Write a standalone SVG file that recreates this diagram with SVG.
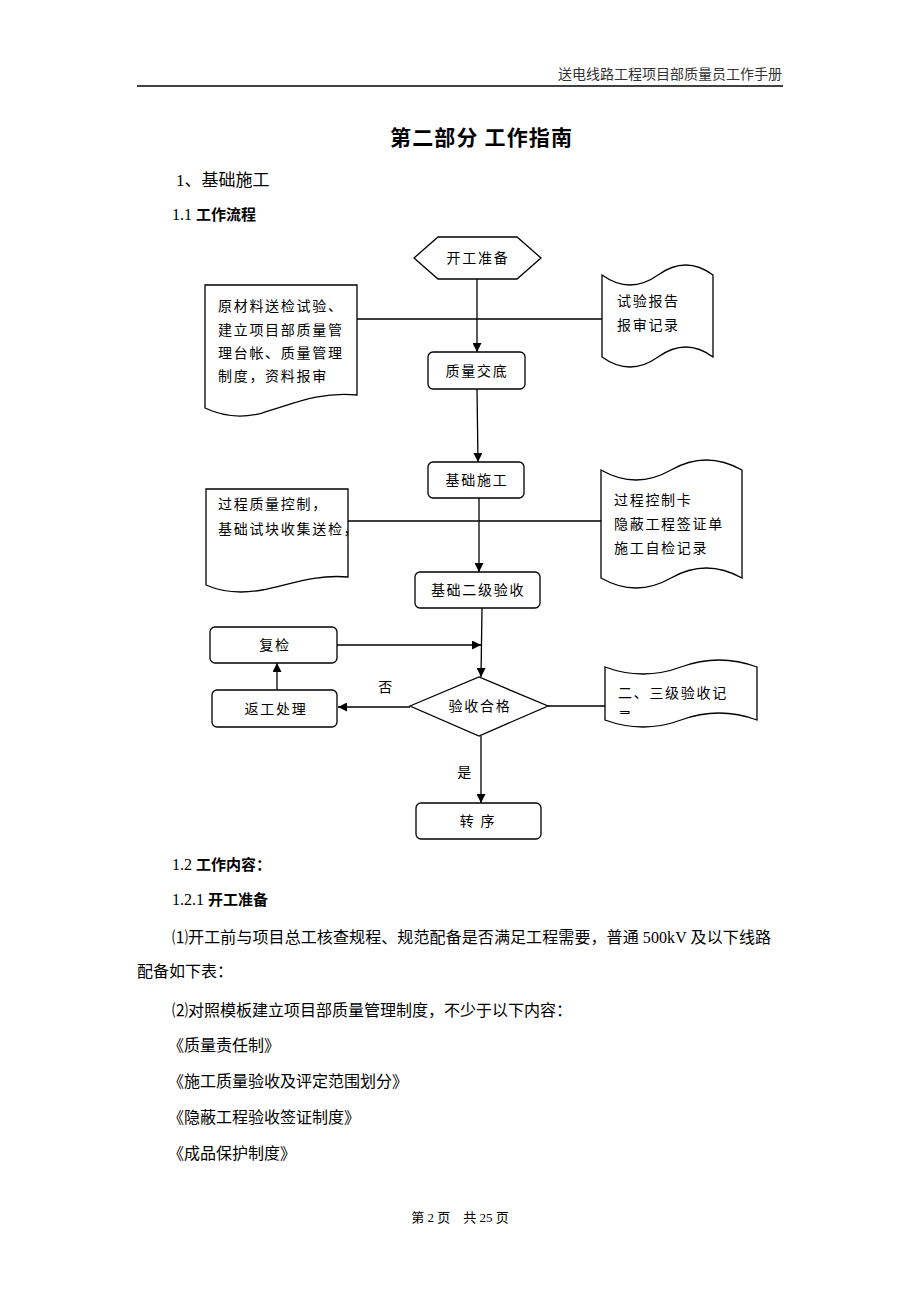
<svg xmlns="http://www.w3.org/2000/svg" width="920" height="1302" viewBox="0 0 920 1302">
<style>
.fc{font-family:"Liberation Serif","Noto Sans CJK SC",serif;font-size:14px;letter-spacing:1.7px;fill:#000}
.fcm{text-anchor:middle}
.body{font-family:"Liberation Serif","Noto Sans CJK SC",serif;font-size:16px;fill:#000}
.hd{font-family:"Noto Sans CJK SC",sans-serif;font-weight:bold;fill:#000}
.num{font-family:"Liberation Serif",serif;font-weight:normal}
.shape{fill:#fff;stroke:#000;stroke-width:1.3}
.conn{stroke:#000;stroke-width:1.3;fill:none}
</style>
<defs>
<marker id="arr" markerWidth="9" markerHeight="9" refX="9" refY="4.5" orient="auto" markerUnits="userSpaceOnUse">
<path d="M0,0 L9,4.5 L0,9 Z" fill="#000"/>
</marker>
<clipPath id="clipTape3"><rect x="600" y="660" width="160" height="54"/></clipPath>
</defs>
<rect width="920" height="1302" fill="#fff"/>

<g id="header">
<text x="782" y="79" text-anchor="end" style="font-family:'Liberation Serif','Noto Sans CJK SC',serif;font-size:14px;fill:#333">送电线路工程项目部质量员工作手册</text>
<line x1="137" y1="86" x2="783" y2="86" stroke="#000" stroke-width="1.5"/>
</g>

<g id="headings">
<text x="390" y="145" class="hd" style="font-size:21px" textLength="182" lengthAdjust="spacing">第二部分 工作指南</text>
<text x="176" y="186" class="body" style="font-size:17px">1、基础施工</text>
<text x="172" y="220" class="hd" style="font-size:15px"><tspan class="num" style="font-size:16px">1.1 </tspan>工作流程</text>
</g>

<g id="connectors">
<line class="conn" x1="357" y1="319" x2="602" y2="319"/>
<line class="conn" x1="348" y1="521" x2="601" y2="521"/>
<line class="conn" x1="548" y1="706" x2="605" y2="706"/>
<line class="conn" x1="477" y1="279" x2="477" y2="352" marker-end="url(#arr)"/>
<line class="conn" x1="477" y1="389" x2="478" y2="462" marker-end="url(#arr)"/>
<line class="conn" x1="479" y1="498" x2="479" y2="572" marker-end="url(#arr)"/>
<line class="conn" x1="482" y1="608" x2="481" y2="677" marker-end="url(#arr)"/>
<line class="conn" x1="337" y1="645" x2="481" y2="645" marker-end="url(#arr)"/>
<line class="conn" x1="410" y1="707" x2="338" y2="707" marker-end="url(#arr)"/>
<line class="conn" x1="277" y1="690" x2="277" y2="663" marker-end="url(#arr)"/>
<line class="conn" x1="481" y1="736" x2="481" y2="803" marker-end="url(#arr)"/>
<text x="386" y="692" text-anchor="middle" class="fc">否</text>
<text x="465" y="777" text-anchor="middle" class="fc">是</text>
</g>

<g id="n-start">
<polygon class="shape" points="414,258 438,237 517,237 541,258 517,279 438,279"/>
<text x="478" y="263" class="fc fcm">开工准备</text>
</g>

<g id="n-doc1">
<path class="shape" d="M205,285 H357 V395 C320,391 290,405 262,413 C240,419 222,416 205,408 Z"/>
<text class="fc" x="218" y="311">原材料送检试验、</text>
<text class="fc" x="218" y="335">建立项目部质量管</text>
<text class="fc" x="218" y="358">理台帐、质量管理</text>
<text class="fc" x="218" y="381">制度，资料报审</text>
</g>

<g id="n-tape1">
<path class="shape" d="M602,275 Q630,295 658,275 Q686,255 713,275 V357 Q686,337 658,357 Q630,377 602,357 Z"/>
<text class="fc" x="617" y="306">试验报告</text>
<text class="fc" x="617" y="330">报审记录</text>
</g>

<g id="n-jiaodi">
<rect class="shape" x="428" y="352" width="97" height="37" rx="5"/>
<text x="477" y="376" class="fc fcm">质量交底</text>
</g>

<g id="n-shigong">
<rect class="shape" x="428" y="462" width="96" height="36" rx="5"/>
<text x="477" y="485" class="fc fcm">基础施工</text>
</g>

<g id="n-doc2">
<path class="shape" d="M206,489 H348 V577 C315,574 288,585 262,590 C240,594 222,592 206,585 Z"/>
<text class="fc" x="218" y="509">过程质量控制，</text>
<text class="fc" x="218" y="534">基础试块收集送检，</text>
</g>

<g id="n-tape2">
<path class="shape" d="M601,470 Q636,490 671,470 Q706,450 742,470 V578 Q706,558 671,578 Q636,598 601,578 Z"/>
<text class="fc" x="614" y="505">过程控制卡</text>
<text class="fc" x="614" y="529">隐蔽工程签证单</text>
<text class="fc" x="614" y="553">施工自检记录</text>
</g>

<g id="n-erji">
<rect class="shape" x="415" y="572" width="125" height="36" rx="5"/>
<text x="478" y="595" class="fc fcm">基础二级验收</text>
</g>

<g id="n-fujian">
<rect class="shape" x="210" y="627" width="127" height="36" rx="5"/>
<text x="275" y="650" class="fc fcm">复检</text>
</g>

<g id="n-fangong">
<rect class="shape" x="212" y="690" width="125" height="37" rx="5"/>
<text x="276" y="714" class="fc fcm">返工处理</text>
</g>

<g id="n-check">
<polygon class="shape" points="410,706 479,677 548,706 479,736"/>
<text x="480" y="711" class="fc fcm">验收合格</text>
</g>

<g id="n-tape3">
<path class="shape" d="M605,667 Q643,681 681,667 Q719,653 757,667 V720 Q719,706 681,720 Q643,734 605,720 Z"/>
<text class="fc" x="618" y="698">二、三级验收记</text>
<text class="fc" x="618" y="722" clip-path="url(#clipTape3)">录</text>
</g>

<g id="n-zhuanxu">
<rect class="shape" x="416" y="803" width="125" height="36" rx="5"/>
<text x="478" y="826" class="fc fcm">转 序</text>
</g>

<g id="content">
<text x="172" y="870" class="hd" style="font-size:15px"><tspan class="num" style="font-size:16px">1.2 </tspan>工作内容：</text>
<text x="172" y="905" class="hd" style="font-size:15px"><tspan class="num" style="font-size:16px">1.2.1 </tspan>开工准备</text>
<text x="172" y="943" class="body" textLength="599" lengthAdjust="spacing">⑴开工前与项目总工核查规程、规范配备是否满足工程需要，普通 500kV 及以下线路</text>
<text x="137" y="977" class="body">配备如下表：</text>
<text x="172" y="1016" class="body">⑵对照模板建立项目部质量管理制度，不少于以下内容：</text>
<text x="168" y="1051" class="body">《质量责任制》</text>
<text x="168" y="1087" class="body">《施工质量验收及评定范围划分》</text>
<text x="168" y="1123" class="body">《隐蔽工程验收签证制度》</text>
<text x="168" y="1159" class="body">《成品保护制度》</text>
</g>

<g id="footer">
<text x="460" y="1222" text-anchor="middle" style="font-family:'Liberation Serif','Noto Sans CJK SC',serif;font-size:13px;fill:#000">第 2 页　共 25 页</text>
</g>
</svg>
